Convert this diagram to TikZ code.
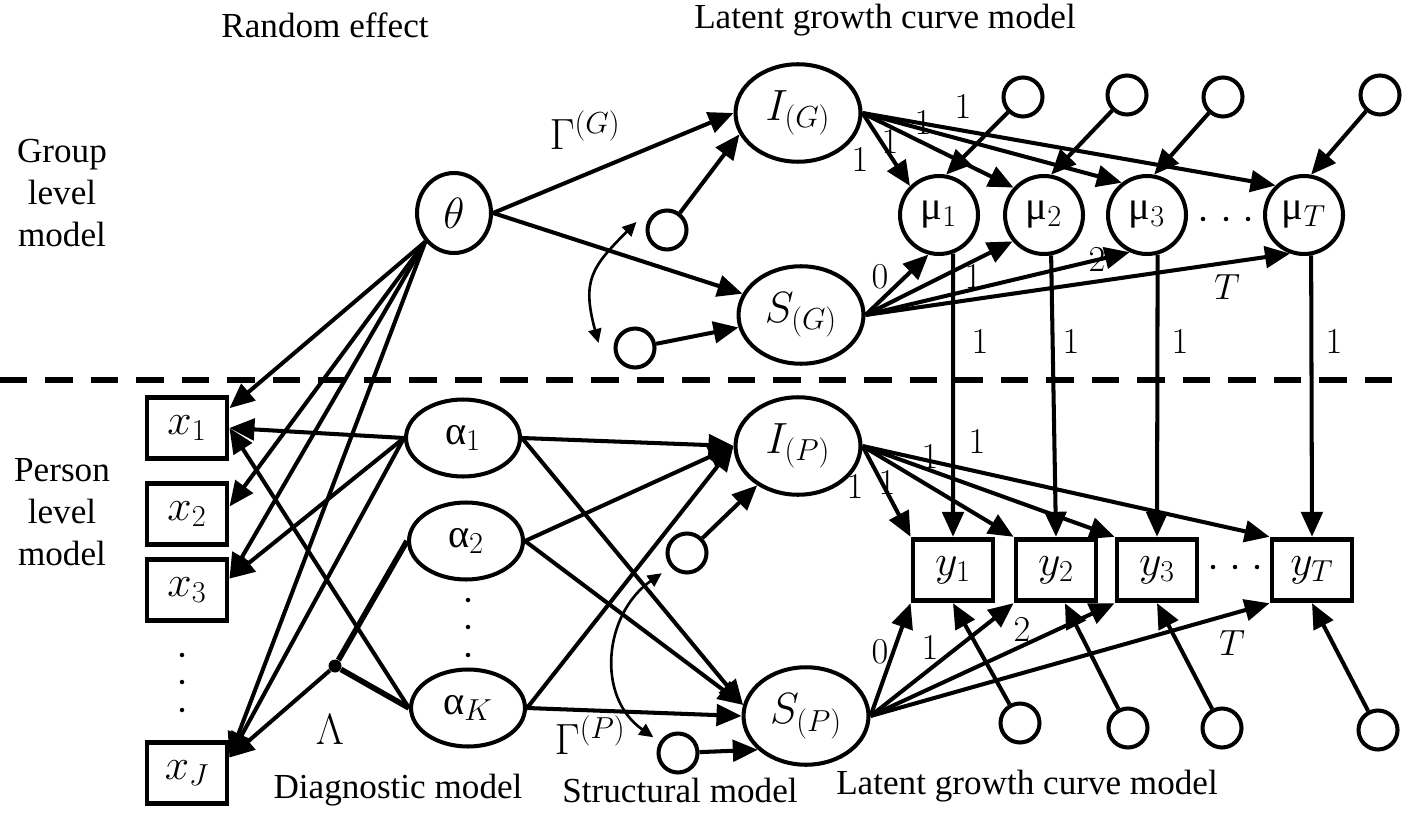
\documentclass[tikz,border=0pt]{standalone}
\usepackage{fontspec}
\setmainfont{Liberation Serif}
\usetikzlibrary{shapes.geometric, arrows.meta, positioning}

\begin{document}
\begin{tikzpicture}[
    x=0.02cm, y=0.02cm,
    font=\fontsize{20}{24}\selectfont,
    sym/.style={font=\fontsize{23}{27}\selectfont},
    latent/.style={ellipse, draw, sym, line width=2.3pt, inner sep=0pt, minimum width=2.5cm, minimum height=1.95cm},
    ability/.style={ellipse, draw, sym, line width=2.3pt, inner sep=0pt, minimum width=2.28cm, minimum height=1.54cm},
    mean/.style={circle, draw, sym, line width=2.3pt, inner sep=0pt, minimum size=1.56cm},
    resid/.style={circle, draw, line width=2.3pt, inner sep=0pt, minimum size=0.78cm},
    obs/.style={rectangle, draw, sym, line width=2.8pt, inner sep=0pt, minimum width=1.6cm, minimum height=1.23cm},
    arrow/.style={-{Triangle[length=5mm, width=4.3mm]}, line width=2.3pt},
    link/.style={line width=3.2pt},
    cov/.style={{Triangle[length=2.8mm, width=2.6mm]}-{Triangle[length=2.8mm, width=2.6mm]}, line width=1.5pt},
    dot/.style={circle, fill, inner sep=0pt, minimum size=0.09cm},
    lab/.style={inner sep=1pt, font=\fontsize{21}{25}\selectfont},
]
\useasboundingbox (0,0) rectangle (1408,-817);

% Headings
\node (hRand) at (325,-25) {Random effect};
\node (hLgcmTop) at (885,-20) {Latent growth curve model};
\node[align=center] (hGroup) at (62,-193) {Group\\level\\model};
\node[align=center] (hPerson) at (62,-512) {Person\\level\\model};
\node (hDiag) at (398,-790) {Diagnostic model};
\node (hStruct) at (680,-790) {Structural model};
\node (hLgcmBot) at (1027,-786) {Latent growth curve model};

% Group level: random effect and growth curve
\node[ellipse, draw, sym, line width=2.3pt, inner sep=0pt, minimum width=1.48cm, minimum height=1.6cm] (theta) at (454,-213) {$\theta$};
\node[sym] (GammaG) at (585,-130) {$\Gamma^{(G)}$};
\node[latent] (IG) at (798,-113) {$I_{(G)}$};
\node[latent] (SG) at (801,-315) {$S_{(G)}$};
\node[resid] (dIG) at (667,-230) {};
\node[resid] (dSG) at (635,-348) {};

\foreach \i/\x in {1/939, 2/1044, 3/1147, T/1304}
    \node[mean] (mu\i) at (\x,-215) {μ$_{\i}$};
\foreach \i/\x/\y in {1/1023/-97, 2/1127/-95, 3/1223/-97, T/1380/-95}
    \node[resid] (e\i) at (\x,\y) {};
\foreach \x in {1203, 1226, 1248}
    \node[dot] (mudot\x) at (\x,-219) {};

% Separator
\coordinate (sepL) at (0,-380);
\coordinate (sepR) at (1408,-380);
\draw[line width=3.4pt, dash pattern=on 0.55cm off 0.36cm] (sepL) -- (sepR);

% Person level: diagnostic model
\foreach \i/\y in {1/-428, 2/-514, 3/-590, J/-773}
    \node[obs] (x\i) at (187,\y) {$x_{\i}$};
\foreach \y in {655, 682, 710}
    \node[dot] (xdot\y) at (182,-\y) {};
\node[ability] (a1) at (463,-438) {α$_1$};
\node[ability] (a2) at (466,-541) {α$_2$};
\node[ability] (aK) at (468,-708) {α$_K$};
\foreach \y in {600, 627, 655}
    \node[dot] (adot\y) at (468,-\y) {};
\node[circle, fill, inner sep=0pt, minimum size=0.26cm] (lam) at (335,-666) {};
\node[sym] (Lambda) at (330,-730) {$\Lambda$};

% Person level: structural and growth curve
\node[latent] (IP) at (798,-446) {$I_{(P)}$};
\node[latent] (SP) at (806,-716) {$S_{(P)}$};
\node[resid] (dIP) at (687,-553) {};
\node[resid] (dSP) at (678,-753) {};
\node[sym] (GammaP) at (590,-735) {$\Gamma^{(P)}$};

\foreach \i/\x in {1/953, 2/1056, 3/1157, T/1312}
    \node[obs] (y\i) at (\x,-570) {$y_{\i}$};
\foreach \i/\x/\y in {1/1020/-723, 2/1128/-728, 3/1222/-728, T/1378/-730}
    \node[resid] (f\i) at (\x,\y) {};
\foreach \x in {1213, 1235, 1257}
    \node[dot] (ydot\x) at (\x,-567) {};

% Group level paths
\draw[arrow] (theta.east) -- (IG.west);
\draw[arrow] (theta.east) -- (SG.160);
\draw[arrow] (dIG) -- (IG.200);
\draw[arrow] (dSG) -- (SG);
\draw[cov] ([shift={(-9,8)}]dIG.west) to[out=225, in=105, looseness=1.3] ([shift={(-15,5)}]dSG.west);
\foreach \i/\a in {1/135, 2/138, 3/128, T/134}
    \draw[arrow] (IG.east) -- (mu\i.\a);
\foreach \i/\a in {1/255, 2/220, 3/245, T/250}
    \draw[arrow] (SG.east) -- (mu\i.\a);
\foreach \i in {1,2,3,T}
    \draw[arrow] (e\i) -- (mu\i.80);
\foreach \i/\a in {1/-70, 2/-80, 3/-75, T/-80}
    \draw[arrow] (mu\i.\a) -- (y\i.north);

\node[lab] at (860,-160) {$1$};
\node[lab] at (890,-142) {$1$};
\node[lab] at (923,-123) {$1$};
\node[lab] at (963,-107) {$1$};
\node[lab] at (880,-277) {$0$};
\node[lab] at (973,-277) {$1$};
\node[lab] at (1097,-260) {$2$};
\node[lab] at (1227,-287) {$T$};
\foreach \x in {980, 1071, 1180, 1334}
    \node[lab] at (\x,-342) {$1$};

% Person level paths: diagnostic model
\draw[arrow] (theta.225) -- (x1.25);
\draw[arrow] (theta.225) -- (x2.10);
\draw[arrow] (theta.225) -- (x3.15);
\draw[arrow] (theta.225) -- (xJ.20);
\draw[arrow] (a1.west) -- (x1.east);
\draw[arrow] (a1.west) -- (x3.15);
\draw[arrow] (a1.west) -- (xJ.20);
\draw[arrow] (aK.west) -- (x1.east);
\draw[link] (a2.west) -- (lam);
\draw[link] (aK.west) -- (lam);
\draw[arrow] (lam) -- (xJ.20);

% Person level paths: structural model
\draw[arrow] (a1.east) -- (IP.west);
\draw[arrow] (a1.east) -- (SP.170);
\draw[arrow] (a2.east) -- (IP.west);
\draw[arrow] (a2.east) -- (SP.170);
\draw[arrow] (aK.east) -- (IP.west);
\draw[arrow] (aK.east) -- (SP.west);
\draw[arrow] (dIP) -- (IP);
\draw[arrow] (dSP) -- (SP.215);
\draw[cov] ([shift={(-10,-5)}]dIP.225) to[out=215, in=145, looseness=1.1] ([shift={(-6,5)}]dSP.150);

% Person level paths: growth curve
\foreach \i in {1,2,3,T} {
    \draw[arrow] (IP.east) -- (y\i.north west);
    \draw[arrow] (SP.east) -- (y\i.south west);
}
\foreach \i/\a in {1/south, 2/-75, 3/south, T/south}
    \draw[arrow] (f\i) -- (y\i.\a);

\node[lab] at (855,-487) {$1$};
\node[lab] at (887,-483) {$1$};
\node[lab] at (930,-457) {$1$};
\node[lab] at (977,-442) {$1$};
\node[lab] at (880,-652) {$0$};
\node[lab] at (930,-648) {$1$};
\node[lab] at (1022,-630) {$2$};
\node[lab] at (1232,-643) {$T$};

\end{tikzpicture}
\end{document}
